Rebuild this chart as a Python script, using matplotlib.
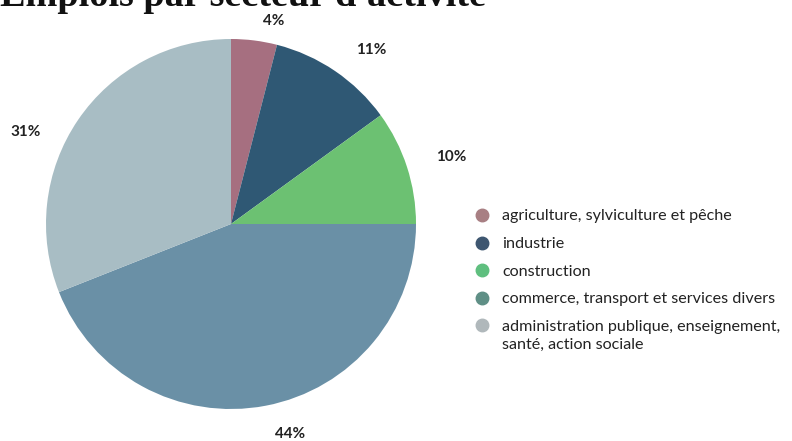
import matplotlib
matplotlib.use("Agg")
import numpy as np
import matplotlib.pyplot as plt
from matplotlib.lines import Line2D

title = "Emplois par secteur d'activité"
categories = [
    "agriculture, sylviculture et pêche",
    "industrie",
    "construction",
    "commerce, transport et services divers",
    "administration publique, enseignement,\nsanté, action sociale",
]
values = [4, 11, 10, 44, 31]
pie_colors = ["#a66f80", "#2f5874", "#6cc172", "#6a90a6", "#a8bdc4"]
legend_colors = ["#a87f83", "#3e5670", "#5fbf7f", "#5f8f86", "#b0b8bb"]
# label placement style (distance in radii, angle nudge in degrees)
label_dist = [1.12, 1.21, 1.245, 1.18, 1.215]
label_nudge = [-4.8, -4.6, -1.1, 4.9, 10.0]

W, H = 792, 441
fig = plt.figure(figsize=(W / 100, H / 100), dpi=100)
fig.patch.set_facecolor("white")

cx, cy, r = 231, 224, 185
ax = fig.add_axes([(cx - r) / W, (H - cy - r) / H, 2 * r / W, 2 * r / H])
wedges, texts = ax.pie(
    values, colors=pie_colors, startangle=90, counterclock=False,
    wedgeprops=dict(linewidth=0),
)
ax.set_xlim(-1, 1)
ax.set_ylim(-1, 1)
total = sum(values)
for w, v, d, n in zip(wedges, values, label_dist, label_nudge):
    ang = np.deg2rad((w.theta1 + w.theta2) / 2 + n)
    ax.text(d * np.cos(ang), d * np.sin(ang), f"{100 * v / total:.0f}%",
            ha="center", va="center", fontsize=11, fontweight="bold",
            family="Lato", color="#222222", clip_on=False)

# Title (partially clipped at the top, as in the reference)
fig.text(0.0, 1 - 6 / H, title, fontsize=27.5, fontweight="bold",
         family="Liberation Serif", ha="left", va="baseline", color="#111111")

# Legend
x0, y0, dy = 482, 215, 27.5
for i, (name, col) in enumerate(zip(categories, legend_colors)):
    y = y0 + i * dy
    fig.add_artist(Line2D([x0 / W], [1 - y / H], marker="o", markersize=9,
                          color=col, linestyle="none", transform=fig.transFigure))
    lines = name.split("\n")
    for j, line in enumerate(lines):
        fig.text((x0 + 20) / W, 1 - (y + 18 * j) / H, line, fontsize=11.6,
                 family="Lato", ha="left", va="center_baseline", color="#222222")

fig.savefig("out.png", dpi=100, facecolor="white")
